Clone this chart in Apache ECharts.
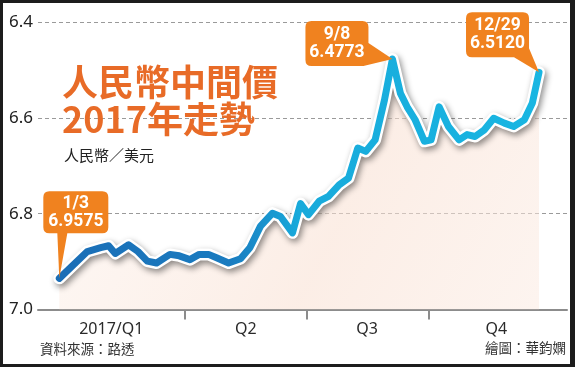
<!DOCTYPE html>
<html><head><meta charset="utf-8">
<script src="https://cdn.jsdelivr.net/npm/echarts@6/dist/echarts.min.js"></script>
<style>html,body{margin:0;padding:0;background:#fff}#c{width:575px;height:367px}</style>
</head><body><div id="c"></div>
<script>
// Day of year (Jan 1 = 0) for each sampled point
const dayOfYear = [2, 23, 33, 39, 44, 54, 61, 68, 75, 85, 92, 100, 107, 114, 120, 129, 138, 145, 153, 162,
  168, 177, 183, 189, 197, 204, 212, 219, 226, 232, 239, 246, 252, 258, 263, 269, 276, 281, 287, 294,
  302, 308, 314, 321, 328, 336, 343, 351, 357, 362];
// CNY per USD central parity
const rateValues = [6.935, 6.879, 6.871, 6.867, 6.883, 6.865, 6.879, 6.899, 6.903, 6.885, 6.888, 6.896, 6.885, 6.885, 6.892, 6.903, 6.894, 6.871, 6.826, 6.799,
  6.806, 6.840, 6.779, 6.802, 6.774, 6.764, 6.740, 6.726, 6.663, 6.670, 6.646, 6.563, 6.4773, 6.549, 6.577, 6.604, 6.649, 6.646, 6.577, 6.618,
  6.646, 6.635, 6.639, 6.625, 6.601, 6.611, 6.618, 6.604, 6.569, 6.505];
const quarterLabels = ['2017/Q1', 'Q2', 'Q3', 'Q4'];
const quarterLabelDays = [41, 142, 233, 330];
const quarterTickDays = [96, 188, 279];
const calloutIndex = [0, 32, 49];
const calloutText = ['1/3\n6.9575', '9/8\n6.4773', '12/29\n6.5120'];

const seriesData = dayOfYear.map((d, i) => [d, rateValues[i]]);

// callout shapes (style): path, size, symbol offset, label offset
const calloutStyles = [
  { path: 'path://M6,0 L59,0 Q65,0 65,6 L65,36 Q65,42 59,42 L24,42 L16,87 L14,42 L6,42 Q0,42 0,36 L0,6 Q0,0 6,0 Z',
    size: [65, 87], offset: [16.5, -43.5], labelOffset: [0, -22.5] },
  { path: 'path://M6,0 L57,0 Q63,0 63,6 L63,22 L87,38 L58,45 L6,45 Q0,45 0,39 L0,6 Q0,0 6,0 Z',
    size: [87, 45], offset: [-43.5, -15.5], labelOffset: [-12, 0] },
  { path: 'path://M6,0 L57,0 Q63,0 63,6 L63,36 L73,60 L48,45 L6,45 Q0,45 0,39 L0,6 Q0,0 6,0 Z',
    size: [73, 60], offset: [-36.5, -30], labelOffset: [-5, -7.5] }
];
const calloutFont = "Roboto, sans-serif";

const markData = calloutIndex.map((idx, k) => ({
  coord: seriesData[idx],
  symbol: calloutStyles[k].path,
  symbolSize: calloutStyles[k].size,
  symbolOffset: calloutStyles[k].offset,
  symbolKeepAspect: false,
  itemStyle: { color: '#f0821f' },
  label: {
    show: true, position: 'inside', formatter: calloutText[k],
    offset: calloutStyles[k].labelOffset,
    color: '#fff', fontSize: 17.5, fontWeight: 'bold', lineHeight: 18,
    fontFamily: calloutFont, align: 'center', verticalAlign: 'middle'
  }
}));

const chart = echarts.init(document.getElementById('c'), null, { renderer: 'canvas' });
const baseFont = "'Noto Sans', sans-serif";
const cjkFont = "'Noto Sans CJK TC', 'Noto Sans CJK SC', sans-serif";

chart.setOption({
  animation: false,
  backgroundColor: '#fff',
  grid: { left: 38, right: 8, top: 22, bottom: 57.5, containLabel: false },
  xAxis: {
    type: 'value', min: -14, max: 383,
    axisLine: { show: true, onZero: false, lineStyle: { color: '#8c8c8c', width: 2 } },
    axisTick: { show: true, customValues: quarterTickDays, length: 10, lineStyle: { color: '#8c8c8c', width: 2 } },
    axisLabel: {
      customValues: quarterLabelDays,
      formatter: v => quarterLabels[quarterLabelDays.indexOf(v)] || '',
      color: '#2a2a2a', fontSize: 16, margin: 12, fontFamily: baseFont
    },
    splitLine: { show: false }
  },
  yAxis: {
    type: 'value', inverse: true, min: 6.4, max: 7.0, interval: 0.2,
    axisLine: { show: false }, axisTick: { show: false },
    axisLabel: { formatter: v => v.toFixed(1), color: '#222', fontSize: 17, margin: 5, fontFamily: baseFont },
    splitLine: { lineStyle: { color: '#9a9a9a', width: 1, type: [4, 3] } }
  },
  series: [
    {
      type: 'line', data: seriesData, symbol: 'none', z: 1, silent: true,
      lineStyle: { width: 0 },
      areaStyle: {
        origin: 'end',
        color: new echarts.graphic.LinearGradient(0, 0, 1, 1, [
          { offset: 0, color: 'rgba(252,238,230,0.55)' },
          { offset: 0.6, color: 'rgba(249,224,210,0.8)' },
          { offset: 1, color: 'rgba(251,234,225,0.75)' }
        ])
      }
    },
    {
      type: 'line', data: seriesData, symbol: 'none', z: 2, silent: true,
      lineStyle: { color: '#fff', width: 12, join: 'round', cap: 'round',
        shadowColor: 'rgba(0,0,0,0.45)', shadowBlur: 6, shadowOffsetX: 2, shadowOffsetY: 3 }
    },
    {
      type: 'line', data: seriesData, symbol: 'none', z: 3, silent: true,
      lineStyle: {
        width: 7, join: 'round', cap: 'round',
        color: new echarts.graphic.LinearGradient(0, 0, 1, 0, [
          { offset: 0, color: '#1a6db6' },
          { offset: 0.36, color: '#1a7cc0' },
          { offset: 0.5, color: '#18aadb' },
          { offset: 1, color: '#19b6e2' }
        ])
      },
      markPoint: { data: markData, silent: true, z: 5 }
    }
  ],
  graphic: [
    { type: 'rect', shape: { x: 0, y: 0, width: 575, height: 3 }, style: { fill: '#1c1c1c' }, z: 100 },
    { type: 'rect', shape: { x: 0, y: 364, width: 575, height: 3 }, style: { fill: '#1c1c1c' }, z: 100 },
    { type: 'rect', shape: { x: 0, y: 0, width: 3, height: 367 }, style: { fill: '#1c1c1c' }, z: 100 },
    { type: 'rect', shape: { x: 570, y: 0, width: 5, height: 367 }, style: { fill: '#1c1c1c' }, z: 100 },
    { type: 'text', x: 62, y: 82.5, style: { text: '人民幣中間價', fill: '#e86b27', fontSize: 36, fontWeight: 'bold', fontFamily: cjkFont, textVerticalAlign: 'middle' }, z: 50 },
    { type: 'text', x: 62, y: 119.5, style: { text: '2017年走勢', fill: '#e86b27', fontSize: 36, fontWeight: 'bold', fontFamily: cjkFont, textVerticalAlign: 'middle' }, z: 50 },
    { type: 'text', x: 64, y: 155, style: { text: '人民幣／美元', fill: '#222', fontSize: 15, fontFamily: cjkFont, textVerticalAlign: 'middle' }, z: 50 },
    { type: 'text', x: 40, y: 349, style: { text: '資料來源：路透', fill: '#333', fontSize: 13.5, fontFamily: cjkFont, textVerticalAlign: 'middle' }, z: 50 },
    { type: 'text', x: 566, y: 348, style: { text: '繪圖：華鈞嫻', fill: '#333', fontSize: 13.5, fontFamily: cjkFont, textAlign: 'right', textVerticalAlign: 'middle' }, z: 50 }
  ]
});
</script>
</body></html>
